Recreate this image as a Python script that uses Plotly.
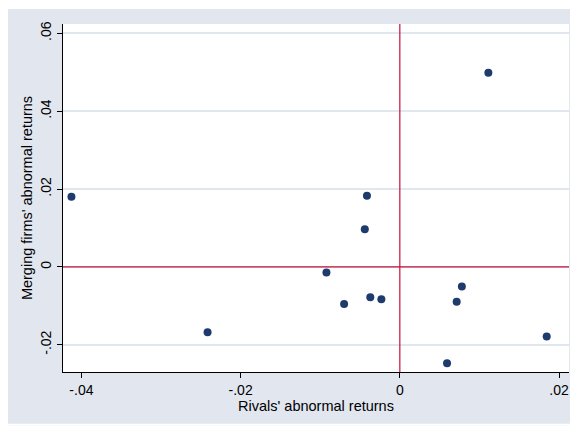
import plotly.graph_objects as go

# Data
rivals_ar = [-0.04125, -0.02415, -0.00922, -0.00700, -0.00440, -0.00413, -0.00371,
             -0.00232, 0.00593, 0.00714, 0.00779, 0.01112, 0.01845]
merging_ar = [0.01805, -0.01677, -0.00145, -0.00950, 0.00967, 0.01831, -0.00779,
              -0.00830, -0.02473, -0.00898, -0.00505, 0.04988, -0.01788]

x_tick_vals = [-0.04, -0.02, 0, 0.02]
x_tick_text = ["-.04", "-.02", "0", ".02"]
y_tick_vals = [-0.02, 0, 0.02, 0.04, 0.06]
y_tick_text = ["-.02", "0", ".02", ".04", ".06"]

x_title = "Rivals' abnormal returns"
y_title = "Merging firms' abnormal returns"

# The page body has an 8px default margin, so the figure is drawn 8px in.
W, H = 570, 418
L, R, T, B = 55.4, 8.5, 16, 53.7
pw = W - L - R
ph = H - T - B

outer_bg = "#E1E6EF"
grid_col = "#E1E6EF"
navy = "#1F3A6C"
red = "#C8103A"
font_family = "Liberation Sans, Arial, sans-serif"

fig = go.Figure()
fig.add_trace(go.Scatter(
    x=rivals_ar, y=merging_ar, mode="markers",
    marker=dict(size=8, color=navy, line=dict(width=0)),
    showlegend=False, hoverinfo="x+y",
))

fig.add_hline(y=0, line=dict(color=red, width=1.2), layer="above")
fig.add_vline(x=0, line=dict(color=red, width=1.2), layer="above")


def px_to_paper_x(px):
    return (px - L) / pw


def px_to_paper_y(py):
    return (H - B - py) / ph


# White border strips around the bluish-gray graph region
for (x0, y0, x1, y1) in [(0, 0, W, 1), (0, 416, W, H)]:
    fig.add_shape(type="rect", xref="paper", yref="paper",
                  x0=px_to_paper_x(x0), x1=px_to_paper_x(x1),
                  y0=px_to_paper_y(y1), y1=px_to_paper_y(y0),
                  fillcolor="white", line=dict(width=0), layer="below")

fig.update_layout(
    width=W, height=H,
    margin=dict(l=L, r=R, t=T, b=B, pad=0),
    paper_bgcolor=outer_bg,
    plot_bgcolor="white",
    font=dict(family=font_family, size=14, color="#000000"),
    xaxis=dict(
        range=[-0.04231, 0.02125],
        tickvals=x_tick_vals, ticktext=x_tick_text,
        showgrid=False, zeroline=False,
        showline=True, linecolor="#000000", linewidth=1,
        ticks="outside", ticklen=5, tickcolor="#000000", tickwidth=1,
        tickfont=dict(size=14),
        title=dict(text=x_title, font=dict(size=14.5), standoff=0),
        automargin=False,
    ),
    yaxis=dict(
        range=[-0.0270, 0.0624],
        tickvals=y_tick_vals, ticktext=y_tick_text,
        showgrid=True, gridcolor=grid_col, gridwidth=1.5,
        zeroline=False,
        showline=True, linecolor="#000000", linewidth=1,
        ticks="outside", ticklen=5, tickcolor="#000000", tickwidth=1,
        tickangle=-90,
        tickfont=dict(size=14),
        title=dict(text=y_title, font=dict(size=14.5), standoff=2),
        automargin=False,
    ),
)

fig.write_html("out.html")
